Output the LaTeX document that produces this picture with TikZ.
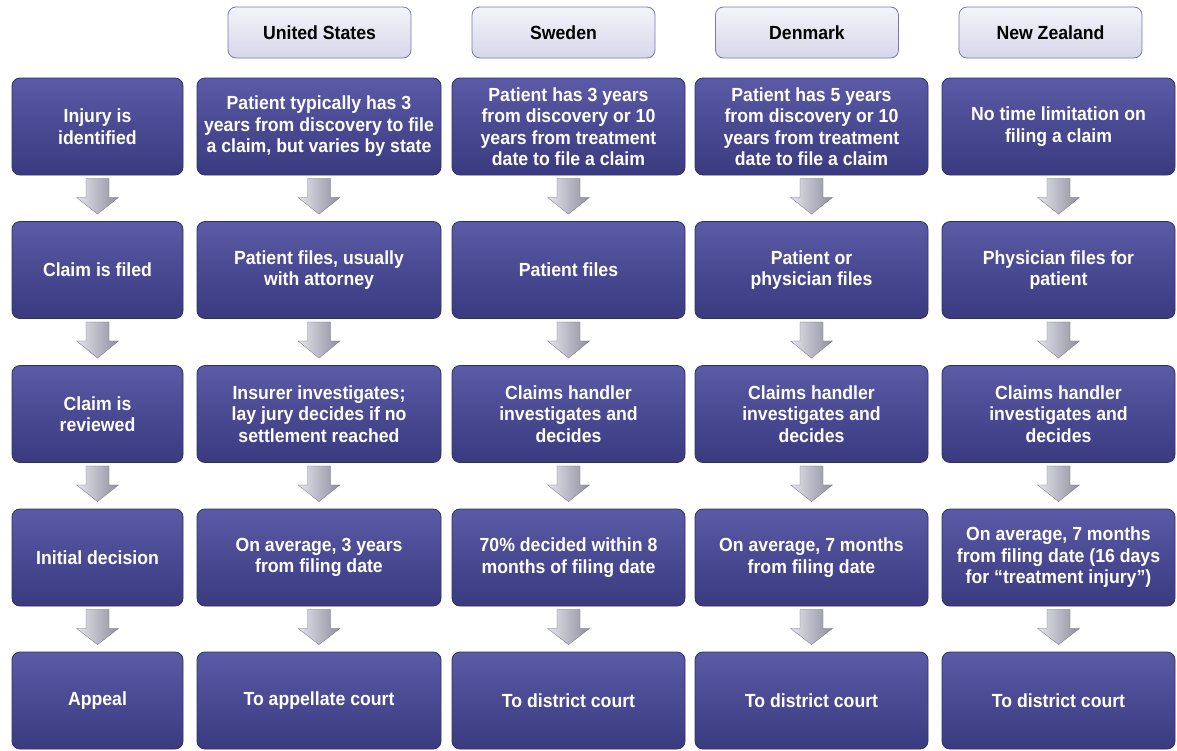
\documentclass[tikz,border=0pt]{standalone}
\usepackage{fontspec}
\setmainfont{Liberation Sans}[FakeStretch=0.93]
\usetikzlibrary{calc}

\definecolor{stagetop}{HTML}{5A5AA6}
\definecolor{stagebottom}{HTML}{3A3A80}
\definecolor{stageedge}{HTML}{30305E}
\definecolor{headtop}{HTML}{F4F4FA}
\definecolor{headbottom}{HTML}{D6D6EA}
\definecolor{headedge}{HTML}{7878AC}
\definecolor{arrowlight}{HTML}{E4E4EC}
\definecolor{arrowdark}{HTML}{8E8E9E}

% gray block arrow from one stage down to the next
\newcommand{\flowarrow}[2]{%
  \shade[flowarrow] ($(#1.south)+(-11.5,3)$) -- ($(#1.south)+(11.5,3)$)
    -- ($(#1.south)+(11.5,22)$) -- ($(#1.south)+(21,22)$)
    -- ($(#2.north)+(0,-7)$)
    -- ($(#1.south)+(-21,22)$) -- ($(#1.south)+(-11.5,22)$) -- cycle;}

\begin{document}
\begin{tikzpicture}[x=1pt, y=-1pt,
        stage/.style={draw=stageedge, line width=0.8pt, rounded corners=8pt,
            top color=stagetop, bottom color=stagebottom, text=white,
            minimum height=97pt, align=center, inner sep=2pt,
            font=\bfseries\fontsize{19}{21.5}\selectfont},
        stagelabel/.style={stage, minimum width=171pt},
        stagewide/.style={stage, minimum width=244pt},
        stagenarrow/.style={stage, minimum width=233pt},
        country/.style={draw=headedge, line width=0.8pt, rounded corners=8pt,
            top color=headtop, bottom color=headbottom, text=black,
            minimum width=183pt, minimum height=51pt,
            font=\bfseries\fontsize{19}{21.5}\selectfont},
        flowarrow/.style={left color=arrowlight, right color=arrowdark,
            draw=arrowdark!80!black, line width=0.3pt}]
            \useasboundingbox (0,0) rectangle (1177,750);

            % country headings
            \node[country] (us) at (319.5,32.5) {United States};
            \node[country] (se) at (563.5,32.5) {Sweden};
            \node[country] (dk) at (807,32.5) {Denmark};
            \node[country] (nz) at (1050.5,32.5) {New Zealand};

            % row 1
            \node[stagelabel]  (r1c0) at (97.5,126.5) {Injury is\\identified};
            \node[stagewide]   (r1c1) at (319,126.5) {Patient typically has 3\\years from discovery to file\\a claim, but varies by state};
            \node[stagenarrow] (r1c2) at (568.5,126.5) {Patient has 3 years\\from discovery or 10\\years from treatment\\date to file a claim};
            \node[stagenarrow] (r1c3) at (811.5,126.5) {Patient has 5 years\\from discovery or 10\\years from treatment\\date to file a claim};
            \node[stagenarrow] (r1c4) at (1058.5,126.5) {No time limitation on\\filing a claim};

            % row 2
            \node[stagelabel]  (r2c0) at (97.5,270) {Claim is filed};
            \node[stagewide]   (r2c1) at (319,270) {Patient files, usually\\with attorney};
            \node[stagenarrow] (r2c2) at (568.5,270) {Patient files};
            \node[stagenarrow] (r2c3) at (811.5,270) {Patient or\\physician files};
            \node[stagenarrow] (r2c4) at (1058.5,270) {Physician files for\\patient};

            % row 3
            \node[stagelabel]  (r3c0) at (97.5,414) {Claim is\\reviewed};
            \node[stagewide]   (r3c1) at (319,414) {Insurer investigates;\\lay jury decides if no\\settlement reached};
            \node[stagenarrow] (r3c2) at (568.5,414) {Claims handler\\investigates and\\decides};
            \node[stagenarrow] (r3c3) at (811.5,414) {Claims handler\\investigates and\\decides};
            \node[stagenarrow] (r3c4) at (1058.5,414) {Claims handler\\investigates and\\decides};

            % row 4
            \node[stagelabel]  (r4c0) at (97.5,557.5) {Initial decision};
            \node[stagewide]   (r4c1) at (319,557.5) {On average, 3 years\\from filing date};
            \node[stagenarrow] (r4c2) at (568.5,557.5) {70\% decided within 8\\months of filing date};
            \node[stagenarrow] (r4c3) at (811.5,557.5) {On average, 7 months\\from filing date};
            \node[stagenarrow] (r4c4) at (1058.5,557.5) {On average, 7 months\\from filing date (16 days\\for “treatment injury”)};

            % row 5
            \node[stagelabel]  (r5c0) at (97.5,700.5) {Appeal};
            \node[stagewide]   (r5c1) at (319,700.5) {To appellate court};
            \node[stagenarrow] (r5c2) at (568.5,700.5) {To district court};
            \node[stagenarrow] (r5c3) at (811.5,700.5) {To district court};
            \node[stagenarrow] (r5c4) at (1058.5,700.5) {To district court};

            % arrows between the rows
            \foreach \c in {0,...,4}
                \foreach \r/\s in {1/2,2/3,3/4,4/5}
                    \flowarrow{r\r c\c}{r\s c\c};

        \end{tikzpicture}
\end{document}
